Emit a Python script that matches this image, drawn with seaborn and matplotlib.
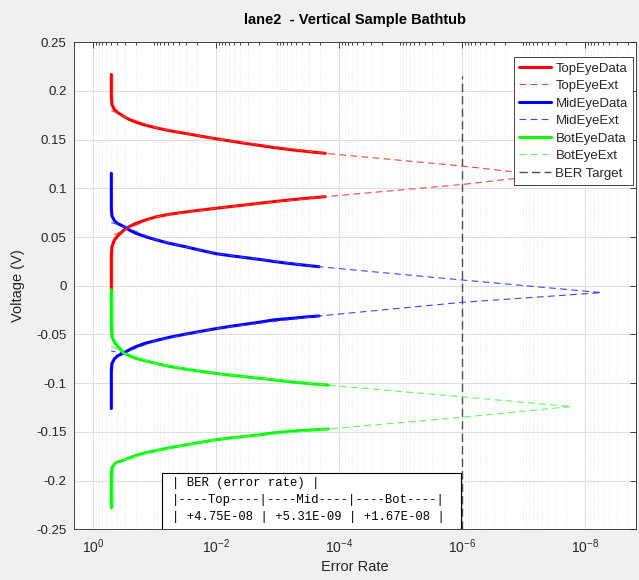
import numpy as np
import pandas as pd
import matplotlib
matplotlib.use("Agg")
import matplotlib.pyplot as plt
import seaborn as sns
from matplotlib.ticker import FixedLocator, LogLocator, NullFormatter, FixedFormatter
from matplotlib.patches import Rectangle

# ---------------- data ----------------
knee_ber = [0.5, 0.5, 0.49, 0.447, 0.398, 0.316, 0.251, 0.2, 0.141, 0.091, 0.056, 0.0316,
            0.0178, 0.01, 0.0056, 0.00316, 0.00178, 0.00115, 5.6e-4, 3.16e-4]

top_hi_ber = knee_ber + [1.66e-4]
top_hi_v = [0.217, 0.195, 0.186, 0.181, 0.178, 0.174, 0.1705, 0.168, 0.165, 0.162, 0.1592,
            0.1565, 0.1537, 0.151, 0.1485, 0.146, 0.1438, 0.142, 0.1395, 0.1378, 0.136]
top_lo_ber = knee_ber + [1.66e-4]
top_lo_v = [-0.004, 0.030, 0.040, 0.047, 0.051, 0.057, 0.061, 0.064, 0.0675, 0.071, 0.0735,
            0.0757, 0.0777, 0.0796, 0.0814, 0.0832, 0.085, 0.0864, 0.0885, 0.0900, 0.0915]

mid_hi_ber = knee_ber + [2.1e-4]
mid_hi_v = [0.1155, 0.080, 0.072, 0.067, 0.064, 0.061, 0.057, 0.054, 0.0505, 0.047, 0.0435,
            0.0402, 0.0365, 0.033, 0.0308, 0.0288, 0.0268, 0.025, 0.0225, 0.0208, 0.0196]
mid_lo_ber = knee_ber + [2.1e-4]
mid_lo_v = [-0.126, -0.088, -0.080, -0.075, -0.072, -0.069, -0.0655, -0.0625, -0.059, -0.056,
            -0.0528, -0.0497, -0.0468, -0.044, -0.0415, -0.0393, -0.037, -0.035, -0.0333,
            -0.0318, -0.031]

bot_hi_ber = knee_ber + [1.5e-4]
bot_hi_v = [-0.004, -0.040, -0.052, -0.058, -0.062, -0.069, -0.072, -0.0745, -0.077, -0.080,
            -0.0828, -0.0855, -0.0878, -0.090, -0.0918, -0.0936, -0.0952, -0.0967, -0.0988,
            -0.1003, -0.102]
bot_lo_ber = knee_ber + [1.5e-4]
bot_lo_v = [-0.228, -0.195, -0.187, -0.183, -0.181, -0.179, -0.1765, -0.1742, -0.1715, -0.169,
            -0.1662, -0.1635, -0.1607, -0.158, -0.1561, -0.1545, -0.1527, -0.151, -0.1492,
            -0.1482, -0.147]

top_ext_ber = [0.5, 0.316, 0.091, 0.0102, 1.66e-4, 1e-6, 4.75e-8, 1e-6, 1.66e-4, 0.0102, 0.091, 0.316, 0.5]
top_ext_v = [0.180, 0.174, 0.162, 0.151, 0.136, 0.123, 0.1135, 0.104, 0.0915, 0.0796, 0.071, 0.057, 0.051]
mid_ext_ber = [0.5, 0.316, 0.091, 0.0102, 2.1e-4, 1e-6, 5.31e-9, 1e-6, 2.1e-4, 0.0102, 0.091, 0.316, 0.5]
mid_ext_v = [0.065, 0.061, 0.047, 0.033, 0.0196, 0.006, -0.007, -0.017, -0.031, -0.044, -0.056, -0.069, -0.067]
bot_ext_ber = [0.5, 0.316, 0.091, 0.0102, 1.5e-4, 1e-6, 1.67e-8, 1e-6, 1.5e-4, 0.0102, 0.091, 0.316, 0.5]
bot_ext_v = [-0.062, -0.069, -0.080, -0.090, -0.102, -0.114, -0.124, -0.135, -0.147, -0.158, -0.169, -0.179, -0.185]

target_ber = [1e-6, 1e-6]
target_v = [-0.25, 0.215]

table_lines = ["| BER (error rate) |",
               "|----Top----|----Mid----|----Bot----|",
               "| +4.75E-08 | +5.31E-09 | +1.67E-08 |"]

ytick_vals = [0.25, 0.2, 0.15, 0.1, 0.05, 0, -0.05, -0.1, -0.15, -0.2, -0.25]
ytick_labels = ["0.25", "0.2", "0.15", "0.1", "0.05", "0", "-0.05", "-0.1", "-0.15", "-0.2", "-0.25"]
xtick_vals = [1, 1e-2, 1e-4, 1e-6, 1e-8]
xtick_labels = [r"$\mathregular{10^{0}}$", r"$\mathregular{10^{-2}}$", r"$\mathregular{10^{-4}}$",
                r"$\mathregular{10^{-6}}$", r"$\mathregular{10^{-8}}$"]

# ---------------- style ----------------
sns.set_style("white")
plt.rcParams["font.family"] = ["Liberation Sans", "DejaVu Sans"]
plt.rcParams["mathtext.fontset"] = "custom"
plt.rcParams["mathtext.rm"] = "Liberation Sans"

TXT = "#262626"
W, H = 639, 580
fig = plt.figure(figsize=(W / 100, H / 100), dpi=100, facecolor="#f0f0f0")
ax_l, ax_r, ax_t, ax_b = 74.3, 636.0, 42.3, 529.3
ax = fig.add_axes([ax_l / W, 1 - ax_b / H, (ax_r - ax_l) / W, (ax_b - ax_t) / H])
ax.set_facecolor("white")
ax.set_xscale("log")

red, blue, green = (1, 0, 0), (0, 0, 1), (0, 1, 0)
data_lw, ext_lw = 2.2, 0.8


def line(xs, ys, color, lw, ls="-", label=None, alpha=1.0, z=3):
    df = pd.DataFrame({"ber": xs, "v": ys})
    sns.lineplot(data=df, x="ber", y="v", sort=False, estimator=None, color=color,
                 lw=lw, linestyle=ls, label=label, alpha=alpha, ax=ax, zorder=z,
                 legend=False if label is None else "auto")


line(top_hi_ber, top_hi_v, red, data_lw, label="TopEyeData")
line(top_lo_ber, top_lo_v, red, data_lw)
line(top_ext_ber, top_ext_v, (1, 0.25, 0.25), ext_lw, ls=(0, (6, 4)), label="TopEyeExt", z=4)
line(mid_hi_ber, mid_hi_v, blue, data_lw, label="MidEyeData")
line(mid_lo_ber, mid_lo_v, blue, data_lw)
line(mid_ext_ber, mid_ext_v, (0.25, 0.25, 1), ext_lw, ls=(0, (6, 4)), label="MidEyeExt", z=4)
line(bot_hi_ber, bot_hi_v, green, data_lw, label="BotEyeData")
line(bot_lo_ber, bot_lo_v, green, data_lw)
line(bot_ext_ber, bot_ext_v, (0.35, 1, 0.35), ext_lw, ls=(0, (6, 4)), label="BotEyeExt", z=4)
line(target_ber, target_v, (0.3, 0.3, 0.3), 1.0, ls=(0, (6, 3)), label="BER Target", z=2)

# ---------------- axes ----------------
ax.set_xlim(2.0, 1.47e-9)
ax.set_ylim(-0.25, 0.25)
ax.xaxis.set_major_locator(FixedLocator(xtick_vals))
ax.xaxis.set_major_formatter(FixedFormatter(xtick_labels))
ax.xaxis.set_minor_locator(LogLocator(base=10, subs=np.arange(1, 10), numticks=200))
ax.xaxis.set_minor_formatter(NullFormatter())
ax.set_yticks(ytick_vals)
ax.set_yticklabels(ytick_labels)

ax.grid(True, which="major", color=(0.87, 0.87, 0.87), lw=0.8, ls="-", zorder=0)
ax.grid(True, which="minor", axis="x", color=(0.86, 0.86, 0.86), lw=0.5, ls=(0, (1, 2.5)), zorder=0)
ax.set_axisbelow(True)

ax.tick_params(axis="both", which="both", direction="in", top=True, right=True,
               colors=TXT, labelcolor=TXT, width=0.6)
ax.tick_params(axis="both", which="major", length=4, labelsize=9.5)
ax.tick_params(axis="x", which="minor", length=2)
ax.tick_params(axis="y", which="major", pad=5.5)
ax.tick_params(axis="x", which="major", pad=6, labelsize=10)
for s in ax.spines.values():
    s.set_color(TXT)
    s.set_linewidth(0.6)

ax.set_xlabel("Error Rate", fontsize=10.5, color=TXT, labelpad=3)
ax.set_ylabel("Voltage (V)", fontsize=10.5, color=TXT, labelpad=8)
ax.set_title("lane2  - Vertical Sample Bathtub", fontsize=10.5, fontweight="bold", color="black", pad=13)

# legend
handles, labels = ax.get_legend_handles_labels()
leg = ax.legend(handles, labels, loc="upper right", bbox_to_anchor=(633 / W, 1 - 57 / H),
                bbox_transform=fig.transFigure, borderaxespad=0, fontsize=9.5,
                frameon=True, fancybox=False, framealpha=1, edgecolor=TXT,
                handlelength=2.4, handletextpad=0.35, labelspacing=0.4, borderpad=0.4)
leg.get_frame().set_linewidth(0.6)
for t in leg.get_texts():
    t.set_color(TXT)


# table box
def fx(px):
    return (px - ax_l) / (ax_r - ax_l)


def fy(py):
    return (ax_b - py) / (ax_b - ax_t)


rect = Rectangle((fx(162.3), -0.05), fx(460.7) - fx(162.3), fy(473.3) + 0.05,
                 transform=ax.transAxes, facecolor="white", edgecolor="black", lw=0.8,
                 clip_on=True, zorder=5)
ax.add_patch(rect)
for py, txt in zip([483.3, 500.0, 517.3], table_lines):
    ax.text(fx(172.0), fy(py), txt, transform=ax.transAxes, ha="left", va="center",
            fontsize=8.8, family=["Liberation Mono", "DejaVu Sans Mono"], color="black", zorder=6)

fig.savefig("out.png", dpi=100, facecolor=fig.get_facecolor())
